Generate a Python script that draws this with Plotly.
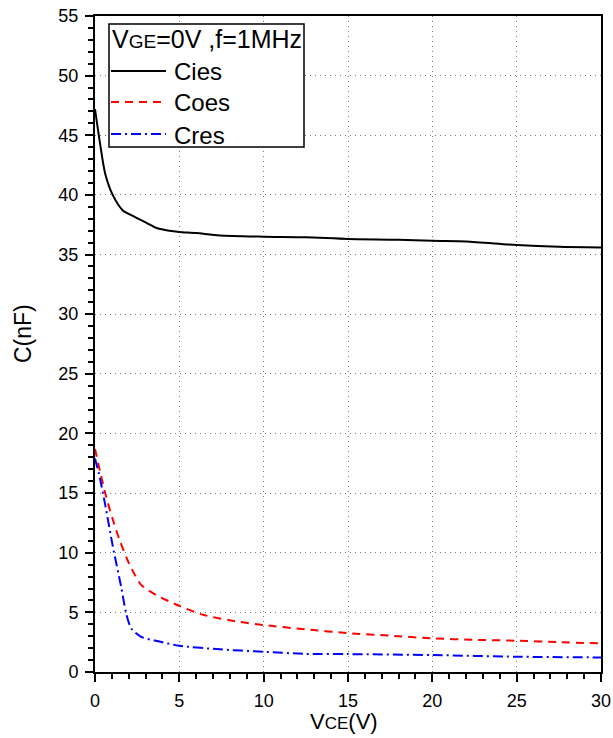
import plotly.graph_objects as go

# Capacitance vs collector-emitter voltage (VGE = 0 V, f = 1 MHz)
vce_cies = [0, 0.3, 0.6, 1.05, 1.65, 2.3, 3.0, 3.7, 4.4, 5.0, 6.0, 7.4, 10.0,
            12.5, 15.0, 18.0, 20.0, 22.0, 25.0, 27.5, 30.0]
cies = [47.2, 44.3, 41.8, 40.0, 38.7, 38.2, 37.7, 37.2, 37.0, 36.9, 36.8, 36.6,
        36.5, 36.45, 36.3, 36.25, 36.15, 36.1, 35.8, 35.65, 35.6]

vce_coes = [0, 0.3, 0.66, 1.05, 1.45, 2.05, 2.74, 3.63, 4.91, 6.4, 8.57, 9.95,
            12.5, 15.1, 17.5, 20.0, 22.5, 25.0, 27.5, 30.0]
coes = [18.7, 16.8, 14.7, 12.8, 11.1, 9.0, 7.3, 6.45, 5.6, 4.8, 4.2, 3.95,
        3.57, 3.25, 3.05, 2.82, 2.7, 2.62, 2.5, 2.4]

vce_cres = [0, 0.27, 0.66, 1.06, 1.55, 1.85, 2.15, 2.74, 3.83, 5.0, 7.4, 9.95,
            12.5, 15.0, 20.0, 25.0, 30.0]
cres = [17.9, 16.4, 13.6, 10.5, 7.15, 4.9, 3.65, 2.95, 2.55, 2.2, 1.9, 1.7,
        1.52, 1.5, 1.42, 1.28, 1.22]

series = [
    ("Cies", vce_cies, cies, "black", "solid"),
    ("Coes", vce_coes, coes, "#ff0000", "8px,6px"),
    ("Cres", vce_cres, cres, "#0000ff", "10px,4px,2px,4px"),
]

FONT = "Liberation Sans, Arial, sans-serif"
W, H = 613, 738
ML, MR, MT, MB = 95, 12, 16, 66
PW, PH = W - ML - MR, H - MT - MB


def px(x):
    return (x - ML) / PW


def py(y):
    return 1 - (y - MT) / PH


fig = go.Figure()
for name, xs, ys, color, dash in series:
    fig.add_trace(go.Scatter(
        x=xs, y=ys, mode="lines", name=name, showlegend=False,
        line=dict(color=color, width=2, dash=dash, shape="spline", smoothing=0.7),
    ))

axis_common = dict(
    showline=True, linecolor="black", linewidth=2, mirror=True,
    ticks="outside", ticklen=8, tickwidth=2, tickcolor="black",
    showgrid=True, gridcolor="#777777", griddash="1px,4px", gridwidth=1,
    zeroline=False, automargin=False,
    tickfont=dict(family=FONT, size=18, color="black"),
    minor=dict(ticks="outside", ticklen=5, tickwidth=1.5, tickcolor="black",
               showgrid=False),
)

fig.update_xaxes(range=[0, 30], dtick=5, tick0=0, **axis_common,
                 ticklabelstandoff=3)
fig.update_yaxes(range=[0, 55], dtick=5, tick0=0, **axis_common,
                 ticklabelstandoff=3)

# Legend box drawn in paper coordinates
shapes = [dict(type="rect", xref="paper", yref="paper",
               x0=px(109), x1=px(304), y0=py(147), y1=py(24),
               line=dict(color="black", width=1.5), fillcolor="white", layer="above")]
annotations = [dict(
    xref="paper", yref="paper", x=px(110), y=py(39), xanchor="left", yanchor="middle",
    text="V<span style='font-size:19px'>GE</span>=0V ,f=1MHz", showarrow=False,
    font=dict(family=FONT, size=25, color="black"))]
rows_y = [71, 102, 134]
for (name, xs, ys, color, dash), ry in zip(series, rows_y):
    shapes.append(dict(type="line", xref="paper", yref="paper",
                       x0=px(111), x1=px(166), y0=py(ry), y1=py(ry),
                       line=dict(color=color, width=2, dash=dash), layer="above"))
    annotations.append(dict(
        xref="paper", yref="paper", x=px(172), y=py(ry + 1), xanchor="left",
        yanchor="middle", text=name, showarrow=False,
        font=dict(family=FONT, size=24, color="black")))

# Axis titles
annotations.append(dict(
    xref="paper", yref="paper", x=px(344), y=py(721), xanchor="center", yanchor="middle",
    text="V<span style='font-size:17px'>CE</span>(V)", showarrow=False,
    font=dict(family=FONT, size=22, color="black")))
annotations.append(dict(
    xref="paper", yref="paper", x=px(23), y=py(334), xanchor="center", yanchor="middle",
    text="C(nF)", textangle=-90, showarrow=False,
    font=dict(family=FONT, size=23, color="black")))

fig.update_layout(
    width=W, height=H,
    margin=dict(l=ML, r=MR, t=MT, b=MB),
    plot_bgcolor="white", paper_bgcolor="white",
    shapes=shapes, annotations=annotations,
    showlegend=False,
)

fig.write_html("out.html")
